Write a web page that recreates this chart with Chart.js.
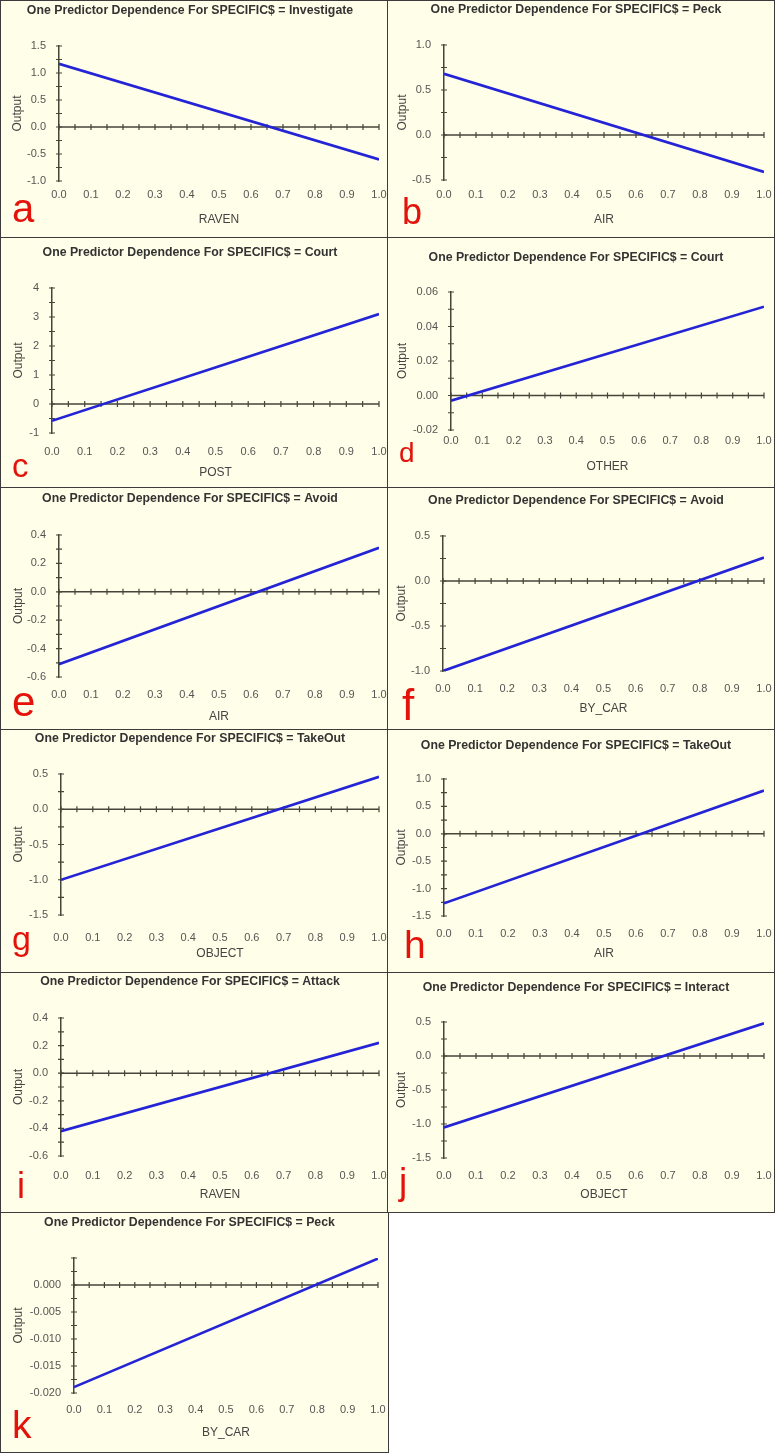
<!DOCTYPE html>
<html>
<head>
<meta charset="utf-8">
<title>One Predictor Dependence</title>
<script src="https://cdn.jsdelivr.net/npm/chart.js@4.4.1/dist/chart.umd.min.js"></script>
<style>
    html, body { margin: 0; padding: 0; background: #fff; }
    body { position: relative; width: 775px; height: 1453px; overflow: hidden; font-family: "Liberation Sans", Arial, sans-serif; }
    .panel { position: absolute; box-sizing: border-box; border: 1px solid #3b3b3b; background: #fffee8; }
    .panel canvas { position: absolute; left: 0; top: 0; }
    .tag { position: absolute; color: #e3120b; font-family: "Liberation Sans", Arial, sans-serif; white-space: nowrap; }
</style>
</head>
<body>
<script>
// ---- data ----
const letters = ['a', 'b', 'c', 'd', 'e', 'f', 'g', 'h', 'i', 'j', 'k'];
const specifics = ['Investigate', 'Peck', 'Court', 'Court', 'Avoid', 'Avoid', 'TakeOut', 'TakeOut', 'Attack', 'Interact', 'Peck'];
const predictors = ['RAVEN', 'AIR', 'POST', 'OTHER', 'AIR', 'BY_CAR', 'OBJECT', 'AIR', 'RAVEN', 'OBJECT', 'BY_CAR'];
const xValues = [0, 1];
const outputAt0 = [1.17, 0.68, -0.58, -0.003, -0.51, -1.0, -1.0, -1.27, -0.42, -1.05, -0.0189];
const outputAt1 = [-0.6, -0.41, 3.1, 0.0515, 0.31, 0.26, 0.46, 0.79, 0.22, 0.48, 0.0049];
const yMin = [-1, -0.5, -1, -0.02, -0.6, -1, -1.5, -1.5, -0.6, -1.5, -0.02];
const yMax = [1.5, 1, 4, 0.06, 0.4, 0.5, 0.5, 1, 0.4, 0.5, 0.005];
const yMajor = [0.5, 0.5, 1, 0.02, 0.2, 0.5, 0.5, 0.5, 0.2, 0.5, 0.005];
const yDecimals = [1, 1, 0, 2, 1, 1, 1, 1, 1, 1, 3];
const yTopLabel = [true, true, true, true, true, true, true, true, true, true, false];
const xMajor = 0.1;
const xMinor = 0.05;

// ---- panel geometry (px): panel box, plot area, text rows, letter tag ----
const boxes = [
    { x: 0,   y: 0,    w: 389, h: 238, L: 59, R: 379, T: 46, B: 181, titleY: 11, tickY: 193, nameY: 220, outX: 18, tagX: 13, tagBase: 222, tagSize: 40 },
    { x: 387, y: 0,    w: 388, h: 238, L: 57, R: 377, T: 45, B: 180, titleY: 10, tickY: 193, nameY: 220, outX: 16, tagX: 16, tagBase: 224, tagSize: 36 },
    { x: 0,   y: 237,  w: 389, h: 251, L: 52, R: 379, T: 51, B: 196, titleY: 16, tickY: 213, nameY: 236, outX: 19, tagX: 13, tagBase: 240, tagSize: 33 },
    { x: 387, y: 237,  w: 388, h: 251, L: 64, R: 377, T: 55, B: 193, titleY: 21, tickY: 202, nameY: 230, outX: 16, tagX: 13, tagBase: 226, tagSize: 28 },
    { x: 0,   y: 487,  w: 389, h: 243, L: 59, R: 379, T: 48, B: 190, titleY: 12, tickY: 206, nameY: 230, outX: 19, tagX: 13, tagBase: 230, tagSize: 42 },
    { x: 387, y: 487,  w: 388, h: 243, L: 56, R: 377, T: 49, B: 184, titleY: 14, tickY: 200, nameY: 222, outX: 15, tagX: 16, tagBase: 233, tagSize: 44 },
    { x: 0,   y: 729,  w: 389, h: 244, L: 61, R: 379, T: 45, B: 186, titleY: 10, tickY: 207, nameY: 225, outX: 19, tagX: 13, tagBase: 221, tagSize: 34 },
    { x: 387, y: 729,  w: 388, h: 244, L: 57, R: 377, T: 50, B: 187, titleY: 17, tickY: 203, nameY: 225, outX: 15, tagX: 18, tagBase: 229, tagSize: 39 },
    { x: 0,   y: 972,  w: 389, h: 241, L: 61, R: 379, T: 46, B: 184, titleY: 10, tickY: 202, nameY: 223, outX: 19, tagX: 18, tagBase: 226, tagSize: 36 },
    { x: 387, y: 972,  w: 388, h: 241, L: 57, R: 377, T: 50, B: 186, titleY: 16, tickY: 202, nameY: 223, outX: 15, tagX: 13, tagBase: 222, tagSize: 37 },
    { x: 0,   y: 1212, w: 389, h: 241, L: 74, R: 378, T: 46, B: 181, titleY: 11, tickY: 196, nameY: 221, outX: 19, tagX: 13, tagBase: 226, tagSize: 39 }
];

const fontFamily = '"Liberation Sans", Arial, sans-serif';
const axisColor = '#45453a';
const lineColor = '#2424d6';

function isMultiple(v, step) {
    const r = v / step;
    return Math.abs(r - Math.round(r)) < 1e-6;
}

// zero line with its tick marks, plus tick marks crossing the y axis
const zeroAxis = {
    id: 'zeroAxis',
    beforeDatasetsDraw(chart) {
        const { ctx, chartArea } = chart;
        const xs = chart.scales.x;
        const ys = chart.scales.y;
        const y0 = ys.getPixelForValue(0);
        ctx.save();
        ctx.strokeStyle = axisColor;
        ctx.lineWidth = 1.5;
        ctx.beginPath();
        ctx.moveTo(chartArea.left, y0);
        ctx.lineTo(chartArea.right, y0);
        ctx.stroke();
        ctx.lineWidth = 1.2;
        ctx.beginPath();
        xs.ticks.forEach(t => {
            const px = xs.getPixelForValue(t.value);
            ctx.moveTo(px, y0 - 3);
            ctx.lineTo(px, y0 + 3);
        });
        ys.ticks.forEach(t => {
            const py = ys.getPixelForValue(t.value);
            ctx.moveTo(chartArea.left - 3, py);
            ctx.lineTo(chartArea.left + 3, py);
        });
        ctx.stroke();
        ctx.restore();
    }
};

letters.forEach((letter, i) => {
    const b = boxes[i];
    const panel = document.createElement('div');
    panel.className = 'panel';
    panel.style.left = b.x + 'px';
    panel.style.top = b.y + 'px';
    panel.style.width = b.w + 'px';
    panel.style.height = b.h + 'px';
    document.body.appendChild(panel);

    const cw = b.w - 2, ch = b.h - 2;
    const canvas = document.createElement('canvas');
    canvas.width = cw;
    canvas.height = ch;
    canvas.style.width = cw + 'px';
    canvas.style.height = ch + 'px';
    panel.appendChild(canvas);

    // canvas coords (inside the 1px border)
    const L = b.L - 1, R = b.R - 1, T = b.T - 1, B = b.B - 1;
    const titleSize = 12.3;
    const titleLh = titleSize * 1.2;
    const titleTop = b.titleY - 1 - titleLh / 2;
    const nameLh = 12 * 1.2;

    new Chart(canvas, {
        type: 'scatter',
        data: {
            datasets: [{
                data: xValues.map((x, k) => ({ x: x, y: k === 0 ? outputAt0[i] : outputAt1[i] })),
                showLine: true,
                borderColor: lineColor,
                borderWidth: 2.6,
                pointRadius: 0
            }]
        },
        options: {
            responsive: false,
            animation: false,
            devicePixelRatio: 1,
            layout: { padding: { left: 0, top: 0, right: cw - R, bottom: 0 } },
            plugins: {
                legend: { display: false },
                tooltip: { enabled: false },
                title: {
                    display: true,
                    text: 'One Predictor Dependence For SPECIFIC$ = ' + specifics[i],
                    color: '#333333',
                    font: { family: fontFamily, size: titleSize, weight: 'bold' },
                    padding: { top: titleTop, bottom: T - titleTop - titleLh }
                }
            },
            scales: {
                x: {
                    type: 'linear',
                    min: 0,
                    max: 1,
                    afterFit: s => { s.height = ch - B; s.paddingLeft = 0; s.paddingRight = 0; },
                    border: { display: false },
                    grid: { display: false },
                    ticks: {
                        stepSize: xMinor,
                        autoSkip: false,
                        maxRotation: 0,
                        padding: b.tickY - b.B - 13,
                        color: '#555555',
                        font: { family: fontFamily, size: 11 },
                        callback: v => isMultiple(v, xMajor) ? v.toFixed(1) : ''
                    },
                    title: {
                        display: true,
                        text: predictors[i],
                        color: '#444444',
                        font: { family: fontFamily, size: 12 },
                        padding: { top: 0, bottom: ch - (b.nameY - 1) - nameLh / 2 }
                    }
                },
                y: {
                    min: yMin[i],
                    max: yMax[i],
                    afterFit: s => { s.width = L; s.paddingTop = 0; s.paddingBottom = 0; },
                    border: { display: true, color: axisColor, width: 1.5 },
                    grid: { display: false },
                    ticks: {
                        stepSize: yMajor[i] / 2,
                        autoSkip: false,
                        padding: 5,
                        color: '#555555',
                        font: { family: fontFamily, size: 11 },
                        callback: v => {
                            if (!isMultiple(v, yMajor[i])) return '';
                            if (!yTopLabel[i] && Math.abs(v - yMax[i]) < 1e-9) return '';
                            return v.toFixed(yDecimals[i]);
                        }
                    },
                    title: {
                        display: true,
                        text: 'Output',
                        color: '#444444',
                        font: { family: fontFamily, size: 12 },
                        padding: { top: b.outX - 1 - nameLh / 2, bottom: 0 }
                    }
                }
            }
        },
        plugins: [zeroAxis]
    });

    // red panel letter
    const tag = document.createElement('div');
    tag.className = 'tag';
    tag.textContent = letter;
    tag.style.fontSize = b.tagSize + 'px';
    tag.style.lineHeight = b.tagSize + 'px';
    tag.style.left = (b.x + b.tagX - 1) + 'px';
    tag.style.top = (b.y + b.tagBase - 0.8465 * b.tagSize) + 'px';
    document.body.appendChild(tag);
});
</script>
</body>
</html>
